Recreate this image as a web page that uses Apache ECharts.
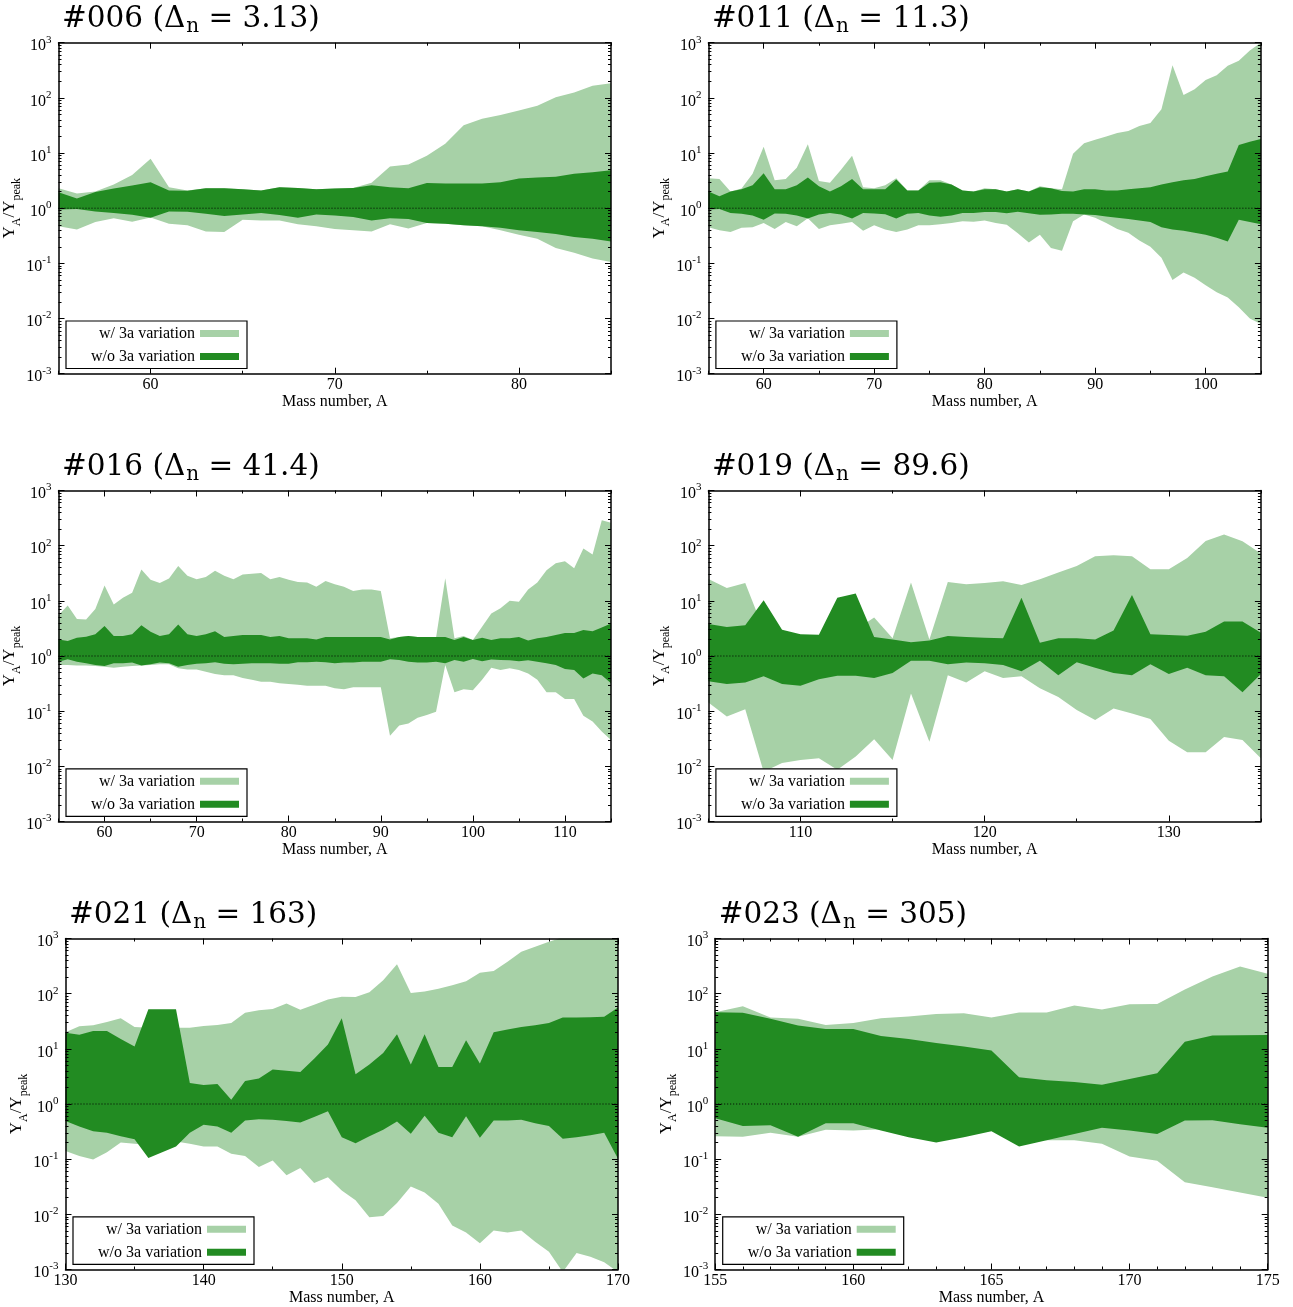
<!DOCTYPE html>
<html><head><meta charset="utf-8">
<script src="https://cdn.jsdelivr.net/npm/echarts@6/dist/echarts.min.js"></script>
<style>html,body{margin:0;padding:0;background:#fff}#c{width:1293px;height:1307px}</style>
</head><body><div id="c"></div><script>
// ---------- data ----------
const titles = ['#006', '#011', '#016', '#019', '#021', '#023'];
const deltaN = ['3.13', '11.3', '41.4', '89.6', '163', '305'];
const legendNames = ['w/ 3a variation', 'w/o 3a variation'];
const yMajor = [0.001, 0.01, 0.1, 1, 10, 100, 1000];

// panel #006
const A1 = [55,56,57,58,59,60,61,62,63,64,65,66,67,68,69,70,71,72,73,74,75,76,77,78,79,80,81,82,83,84,85];
const lu1 = [2.3,1.84,2.0,2.7,4.0,7.9,2.4,2.1,2.3,2.3,2.2,2.1,2.4,2.33,2.2,2.27,2.33,2.9,5.7,6.2,8.9,14.7,32,42,49,59,72,103,125,165,184];
const du1 = [1.95,1.5,1.97,2.27,2.57,2.95,2.1,2.08,2.3,2.3,2.2,2.1,2.4,2.33,2.2,2.27,2.33,2.6,2.4,2.3,2.87,2.8,2.8,2.8,2.95,3.44,3.6,3.7,4.2,4.5,4.86];
const dl1 = [0.95,0.97,0.87,0.82,0.76,0.67,0.87,0.86,0.79,0.72,0.77,0.82,0.75,0.67,0.77,0.74,0.69,0.6,0.66,0.64,0.54,0.52,0.49,0.47,0.44,0.40,0.37,0.34,0.30,0.28,0.25];
const ll1 = [0.47,0.41,0.56,0.66,0.57,0.68,0.52,0.49,0.38,0.37,0.62,0.6,0.6,0.51,0.47,0.42,0.40,0.38,0.51,0.43,0.54,0.52,0.49,0.47,0.40,0.33,0.28,0.19,0.156,0.123,0.106];
const xt1 = [60,70,80], xm1 = [55,65,75,85];

// panel #011
const A2 = [55,56,57,58,59,60,61,62,63,64,65,66,67,68,69,70,71,72,73,74,75,76,77,78,79,80,81,82,83,84,85,86,87,88,89,90,91,92,93,94,95,96,97,98,99,100,101,102,103,104,105];
const lu2 = [3.5,3.4,2.0,2.27,4.2,13,3.2,3.4,5.4,14.5,3.1,2.9,5.0,8.9,2.4,2.3,2.6,3.5,2.1,2.1,3.2,3.2,2.7,2.1,2.0,2.3,2.2,2.0,2.2,2.0,2.5,2.3,2.2,9.7,15,17.4,20,23,25,31,35,62,390,113,144,210,257,384,470,720,1000];
const du2 = [2.0,1.65,2.0,2.2,2.6,4.3,2.2,2.2,2.6,3.6,2.5,2.0,2.5,3.4,2.2,2.2,2.2,3.3,2.1,2.1,2.9,2.95,2.7,2.1,2.0,2.2,2.2,2.0,2.2,2.0,2.4,2.3,2.05,2.0,2.2,2.2,2.1,2.1,2.2,2.3,2.4,2.7,2.95,3.2,3.4,3.8,4.2,4.65,14,16,18];
const dl2 = [0.95,0.97,0.82,0.79,0.74,0.62,0.8,0.79,0.74,0.65,0.77,0.82,0.77,0.65,0.82,0.8,0.78,0.65,0.79,0.82,0.74,0.7,0.74,0.82,0.82,0.85,0.85,0.81,0.86,0.81,0.76,0.77,0.79,0.79,0.77,0.75,0.71,0.67,0.64,0.6,0.56,0.45,0.41,0.39,0.36,0.33,0.29,0.25,0.62,0.56,0.51];
const ll2 = [0.45,0.4,0.37,0.44,0.45,0.54,0.42,0.56,0.47,0.66,0.42,0.49,0.52,0.56,0.39,0.49,0.41,0.37,0.41,0.49,0.49,0.51,0.54,0.58,0.57,0.6,0.54,0.5,0.35,0.24,0.33,0.19,0.17,0.58,0.77,0.67,0.54,0.42,0.36,0.26,0.2,0.127,0.05,0.068,0.055,0.04,0.03,0.024,0.016,0.010,0.008];
const xt2 = [60,70,80,90,100], xm2 = [55,65,75,85,95,105];

// panel #016
const A3 = [55,56,57,58,59,60,61,62,63,64,65,66,67,68,69,70,71,72,73,74,75,76,77,78,79,80,81,82,83,84,85,86,87,88,89,90,91,92,93,94,95,96,97,98,99,100,101,102,103,104,105,106,107,108,109,110,111,112,113,114,115];
const lu3 = [5.5,8.2,4.7,4.6,7.1,19,8.6,11.4,14,37,24,21,25.5,43,28.5,24.5,27,35,28.5,24.5,30,31,32,24.5,27,24,22,21.5,18,23,20,18,15,16,16,15,2.1,2.2,2.3,2.2,2.15,2.15,25.6,2.1,2.3,1.95,3.4,5.9,7.3,10,9.6,16,21.6,36,48,52,39,89,69,290,260];
const du3 = [2.0,1.87,2.15,2.24,2.47,3.5,2.3,2.3,2.47,3.6,2.75,2.3,2.47,3.74,2.47,2.3,2.47,2.8,2.2,2.3,2.4,2.4,2.4,2.2,2.3,2.1,2.1,2.1,2.0,2.2,2.2,2.2,2.2,2.2,2.2,2.2,2.0,2.2,2.3,2.2,2.2,2.2,2.2,1.95,2.2,1.95,2.15,1.95,2.1,2.1,2.2,1.9,2.1,2.2,2.4,2.6,2.6,2.95,2.8,3.3,3.9];
const dl3 = [0.79,0.87,0.79,0.74,0.69,0.66,0.74,0.74,0.76,0.67,0.71,0.76,0.74,0.64,0.69,0.72,0.74,0.77,0.72,0.71,0.72,0.74,0.74,0.74,0.72,0.72,0.77,0.77,0.79,0.77,0.74,0.76,0.76,0.79,0.79,0.79,0.87,0.85,0.79,0.76,0.76,0.79,0.74,0.85,0.79,0.88,0.8,0.86,0.85,0.84,0.8,0.84,0.79,0.74,0.69,0.58,0.56,0.39,0.48,0.45,0.32];
const ll3 = [0.69,0.69,0.67,0.67,0.66,0.64,0.61,0.64,0.66,0.67,0.69,0.71,0.71,0.6,0.57,0.57,0.52,0.47,0.45,0.45,0.4,0.37,0.34,0.34,0.32,0.31,0.3,0.29,0.29,0.29,0.26,0.25,0.27,0.27,0.27,0.27,0.036,0.055,0.06,0.076,0.085,0.098,0.69,0.22,0.25,0.24,0.37,0.61,0.56,0.6,0.56,0.48,0.37,0.22,0.22,0.166,0.166,0.083,0.065,0.043,0.03];
const xt3 = [60,70,80,90,100,110], xm3 = [55,65,75,85,95,105,115];

// panel #019
const A4 = [105,106,107,108,109,110,111,112,113,114,115,116,117,118,119,120,121,122,123,124,125,126,127,128,129,130,131,132,133,134,135];
const lu4 = [25,17,21,3,2.8,2.4,2.3,3,3,5,2.1,21.5,2.0,22,20,21,22.7,19.3,24.5,32.6,43,64,67,64,37.5,37.5,60,122,160,120,72];
const du4 = [3.8,3.35,3.6,10.3,3.0,2.47,2.43,11.4,13.6,2.2,2.0,1.77,1.9,2.3,2.2,2.15,2.1,11.4,1.74,2.1,2.1,2.0,2.9,12.7,2.47,2.4,2.33,2.75,4.2,4.2,2.65];
const dl4 = [0.35,0.31,0.33,0.43,0.31,0.29,0.38,0.44,0.44,0.4,0.49,0.82,0.82,0.71,0.76,0.74,0.69,0.53,0.82,0.45,0.77,0.61,0.49,0.45,0.71,0.47,0.61,0.45,0.43,0.22,0.47];
const ll4 = [0.143,0.08,0.108,0.008,0.0115,0.013,0.014,0.0087,0.015,0.031,0.013,0.21,0.028,0.45,0.33,0.53,0.4,0.43,0.26,0.18,0.105,0.069,0.112,0.091,0.072,0.029,0.018,0.018,0.034,0.03,0.014];
const xt4 = [110,120,130], xm4 = [105,115,125,135];

// panel #021
const A5 = [130,131,132,133,134,135,136,137,138,139,140,141,142,143,144,145,146,147,148,149,150,151,152,153,154,155,156,157,158,159,160,161,162,163,164,165,166,167,168,169,170];
const lu5 = [20,25.7,26.8,30.8,36,25,24,24,24,24,26,27,29.5,45,50,53,66,51,63,78,88,87,106,175,340,103,110,123,142,168,240,258,377,575,705,870,1050,1200,1400,1600,1800];
const du5 = [19.5,18,21,21,15,11,52,52,52,2.4,2.2,2.3,1.2,2.6,2.9,4.2,4.0,3.8,6.6,12,36,3.45,5.2,8.4,18.4,5.2,18.4,4.7,4.7,14.3,5.4,20,22.4,25,26.8,29.5,37,37,37.5,38,56];
const dl5 = [0.49,0.39,0.32,0.3,0.26,0.23,0.105,0.134,0.17,0.3,0.42,0.39,0.3,0.5,0.53,0.52,0.49,0.46,0.58,0.74,0.25,0.195,0.26,0.34,0.48,0.29,0.61,0.3,0.25,0.6,0.245,0.5,0.5,0.52,0.45,0.4,0.235,0.25,0.27,0.3,0.102];
const ll5 = [0.14,0.114,0.099,0.134,0.2,0.19,0.18,0.18,0.21,0.19,0.17,0.17,0.125,0.114,0.072,0.095,0.051,0.069,0.037,0.047,0.027,0.018,0.0089,0.0093,0.016,0.032,0.025,0.0155,0.0063,0.0047,0.003,0.0051,0.0047,0.0051,0.0032,0.0021,0.0009,0.002,0.0017,0.00135,0.0009];
const xt5 = [130,140,150,160,170], xm5 = [135,145,155,165];

// panel #023
const A6 = [155,156,157,158,159,160,161,162,163,164,165,166,167,168,169,170,171,172,173,174,175];
const lu6 = [46,59,37,35,27,29.5,36,38.5,43,44,37,45.5,45.5,61,51.5,64.5,65,119,204,310,230];
const du6 = [46,45,35,26.4,23,23,17,15,12.8,11,9.3,3.05,2.7,2.5,2.24,2.85,3.6,13.5,17.4,17.6,17.9];
const dl6 = [0.55,0.4,0.41,0.255,0.45,0.45,0.33,0.25,0.2,0.25,0.32,0.17,0.22,0.285,0.37,0.33,0.285,0.5,0.51,0.43,0.37];
const ll6 = [0.26,0.255,0.3,0.255,0.34,0.33,0.35,0.3,0.25,0.28,0.33,0.25,0.22,0.22,0.19,0.112,0.094,0.038,0.031,0.025,0.02];
const xt6 = [155,160,165,170,175], xm6 = [156,157,158,159,161,162,163,164,166,167,168,169,171,172,173,174];

// ---------- presentation ----------
const SERIF = "'Liberation Serif', 'Times New Roman', serif";
const TSERIF = "'DejaVu Serif', serif";
const LIGHT = '#a7d1a7', DARK = '#228b22';
const PW = 552.5, PH = 331;
const layout = [
  {left: 58.5, top: 42.7}, {left: 708.4, top: 42.7},
  {left: 58.5, top: 490.5}, {left: 708.4, top: 490.5},
  {left: 65.5, top: 938.5}, {left: 715.2, top: 938.5}
];
const panels = [
  {A: A1, lu: lu1, du: du1, dl: dl1, ll: ll1, xt: xt1, xm: xm1},
  {A: A2, lu: lu2, du: du2, dl: dl2, ll: ll2, xt: xt2, xm: xm2},
  {A: A3, lu: lu3, du: du3, dl: dl3, ll: ll3, xt: xt3, xm: xm3},
  {A: A4, lu: lu4, du: du4, dl: dl4, ll: ll4, xt: xt4, xm: xm4},
  {A: A5, lu: lu5, du: du5, dl: dl5, ll: ll5, xt: xt5, xm: xm5},
  {A: A6, lu: lu6, du: du6, dl: dl6, ll: ll6, xt: xt6, xm: xm6}
];
const yMinor = [];
yMajor.slice(0, -1).forEach(d => { for (let k = 2; k <= 9; k++) yMinor.push(+(k * d).toPrecision(3)); });

const option = {
  animation: false, backgroundColor: '#fff',
  title: [], grid: [], xAxis: [], yAxis: [], legend: [], series: []
};
const frame = {show: true, onZero: false, lineStyle: {color: '#000', width: 1.5}};
const tickStyle = {color: '#000', width: 1};

// Sutherland-Hodgman clip of a pixel polygon to the plot rectangle
function clipPoly(pts, r) {
  const edges = [
    [p => p[0] >= r.x, (a, b) => { const t = (r.x - a[0]) / (b[0] - a[0]); return [r.x, a[1] + t * (b[1] - a[1])]; }],
    [p => p[0] <= r.x + r.width, (a, b) => { const X = r.x + r.width, t = (X - a[0]) / (b[0] - a[0]); return [X, a[1] + t * (b[1] - a[1])]; }],
    [p => p[1] >= r.y, (a, b) => { const t = (r.y - a[1]) / (b[1] - a[1]); return [a[0] + t * (b[0] - a[0]), r.y]; }],
    [p => p[1] <= r.y + r.height, (a, b) => { const Y = r.y + r.height, t = (Y - a[1]) / (b[1] - a[1]); return [a[0] + t * (b[0] - a[0]), Y]; }]
  ];
  let out = pts;
  edges.forEach(([inside, cut]) => {
    const inp = out; out = [];
    for (let k = 0; k < inp.length; k++) {
      const cur = inp[k], prev = inp[(k + inp.length - 1) % inp.length];
      const ci = inside(cur), pi = inside(prev);
      if (ci) { if (!pi) out.push(cut(prev, cur)); out.push(cur); }
      else if (pi) out.push(cut(prev, cur));
    }
  });
  return out;
}

function bandRender(color) {
  return function (params, api) {
    if (params.dataIndexInside !== 0) return null;
    const n = params.dataInsideLength;
    const top = [], bot = [];
    for (let j = 0; j < n; j++) {
      const a = api.value(0, j);
      top.push(api.coord([a, api.value(2, j)]));
      bot.push(api.coord([a, api.value(1, j)]));
    }
    const cs = params.coordSys;
    const pts = clipPoly(top.concat(bot.reverse()), {x: cs.x, y: cs.y, width: cs.width, height: cs.height});
    return {type: 'polygon', shape: {points: pts}, style: {fill: color, stroke: null}, silent: true};
  };
}

panels.forEach((p, i) => {
  const L = layout[i];
  const ax = i * 4;
  const xmin = p.A[0], xmax = p.A[p.A.length - 1];
  option.grid.push({left: L.left, top: L.top, width: PW, height: PH});
  option.title.push({
    left: L.left + 3.5, top: L.top - 38.5, padding: 0,
    text: '{a|' + titles[i] + ' (Δ}{s|n}{a| = ' + deltaN[i] + ')}',
    textStyle: {fontWeight: 'normal', rich: {
      a: {fontFamily: TSERIF, fontSize: 29.5, fontWeight: 'normal', lineHeight: 31, verticalAlign: 'top', color: '#000'},
      s: {fontFamily: TSERIF, fontSize: 20, fontWeight: 'normal', lineHeight: 20, padding: [13, 0, 0, 1], verticalAlign: 'top', color: '#000'}
    }}
  });
  const xb = {gridIndex: i, type: 'value', min: xmin, max: xmax, z: 5, splitLine: {show: false}};
  option.xAxis.push(
    Object.assign({}, xb, {position: 'bottom', axisLine: frame,
      axisTick: {show: true, inside: true, length: 6, customValues: p.xt, lineStyle: tickStyle},
      axisLabel: {show: true, customValues: p.xt, margin: 3, color: '#000', fontFamily: SERIF, fontSize: 16},
      name: 'Mass number, A', nameLocation: 'middle', nameGap: 18,
      nameTextStyle: {color: '#000', fontFamily: SERIF, fontSize: 16}}),
    Object.assign({}, xb, {position: 'bottom', axisLine: {show: false},
      axisTick: {show: true, inside: true, length: 3, customValues: p.xm, lineStyle: tickStyle},
      axisLabel: {show: false}}),
    Object.assign({}, xb, {position: 'top', axisLine: frame,
      axisTick: {show: true, inside: true, length: 6, customValues: p.xt, lineStyle: tickStyle},
      axisLabel: {show: false}}),
    Object.assign({}, xb, {position: 'top', axisLine: {show: false},
      axisTick: {show: true, inside: true, length: 3, customValues: p.xm, lineStyle: tickStyle},
      axisLabel: {show: false}})
  );
  const yb = {gridIndex: i, type: 'log', logBase: 10, min: 0.001, max: 1000, z: 5, splitLine: {show: false}};
  option.yAxis.push(
    Object.assign({}, yb, {position: 'left', axisLine: frame,
      axisTick: {show: true, inside: true, length: 6, customValues: yMajor, lineStyle: tickStyle},
      axisLabel: {show: true, customValues: yMajor, margin: 7, padding: [3, 0, 0, 0],
        formatter: v => '{b|10}{p|' + Math.round(Math.log10(v)) + '}',
        rich: {
          b: {fontFamily: SERIF, fontSize: 16, lineHeight: 20, verticalAlign: 'bottom', color: '#000'},
          p: {fontFamily: SERIF, fontSize: 11, lineHeight: 11, verticalAlign: 'top', color: '#000'}
        }},
      name: '{y|Y}{s|A}{y|/Y}{s|peak}', nameLocation: 'middle', nameGap: 23,
      nameTextStyle: {fontFamily: SERIF, fontSize: 17, color: '#000', rich: {
        y: {fontFamily: SERIF, fontSize: 17, lineHeight: 18, verticalAlign: 'top', color: '#000'},
        s: {fontFamily: SERIF, fontSize: 12, lineHeight: 12, padding: [9, 0, 0, 0], verticalAlign: 'top', color: '#000'}
      }}}),
    Object.assign({}, yb, {position: 'left', axisLine: {show: false},
      axisTick: {show: true, inside: true, length: 3, customValues: yMinor, lineStyle: tickStyle},
      axisLabel: {show: false}}),
    Object.assign({}, yb, {position: 'right', axisLine: frame,
      axisTick: {show: true, inside: true, length: 6, customValues: yMajor, lineStyle: tickStyle},
      axisLabel: {show: false}}),
    Object.assign({}, yb, {position: 'right', axisLine: {show: false},
      axisTick: {show: true, inside: true, length: 3, customValues: yMinor, lineStyle: tickStyle},
      axisLabel: {show: false}})
  );
  const band = (name, lo, hi, color, z) => ({
    type: 'custom', name: name, xAxisIndex: ax, yAxisIndex: ax, z: z, silent: true,
    color: color, itemStyle: {color: color},
    encode: {x: 0, y: [1, 2]},
    data: p.A.map((a, j) => [a, lo[j], hi[j]]),
    renderItem: bandRender(color)
  });
  option.series.push(
    band(legendNames[0], p.ll, p.lu, LIGHT, 1),
    band(legendNames[1], p.dl, p.du, DARK, 2),
    {type: 'line', name: '_ref' + i, xAxisIndex: ax, yAxisIndex: ax, data: [[xmin, 1], [xmax, 1]],
      symbol: 'none', silent: true, z: 3, lineStyle: {color: '#000', width: 1, type: [1, 2]}}
  );
  option.legend.push({
    left: L.left + 7.5, top: L.top + PH - 52.7, orient: 'vertical', align: 'right',
    icon: 'rect', itemWidth: 39, itemHeight: 7, itemGap: 7,
    padding: [4.5, 8, 4, 8], borderColor: '#000', borderWidth: 1.2, borderRadius: 0,
    backgroundColor: '#fff', selectedMode: false, z: 6,
    textStyle: {color: '#000', fontFamily: SERIF, fontSize: 16, lineHeight: 16, width: 121, align: 'right'},
    data: [{name: legendNames[0], itemStyle: {color: LIGHT}}, {name: legendNames[1], itemStyle: {color: DARK}}]
  });
});

const chart = echarts.init(document.getElementById('c'), null, {renderer: 'canvas'});
chart.setOption(option);
</script></body></html>
